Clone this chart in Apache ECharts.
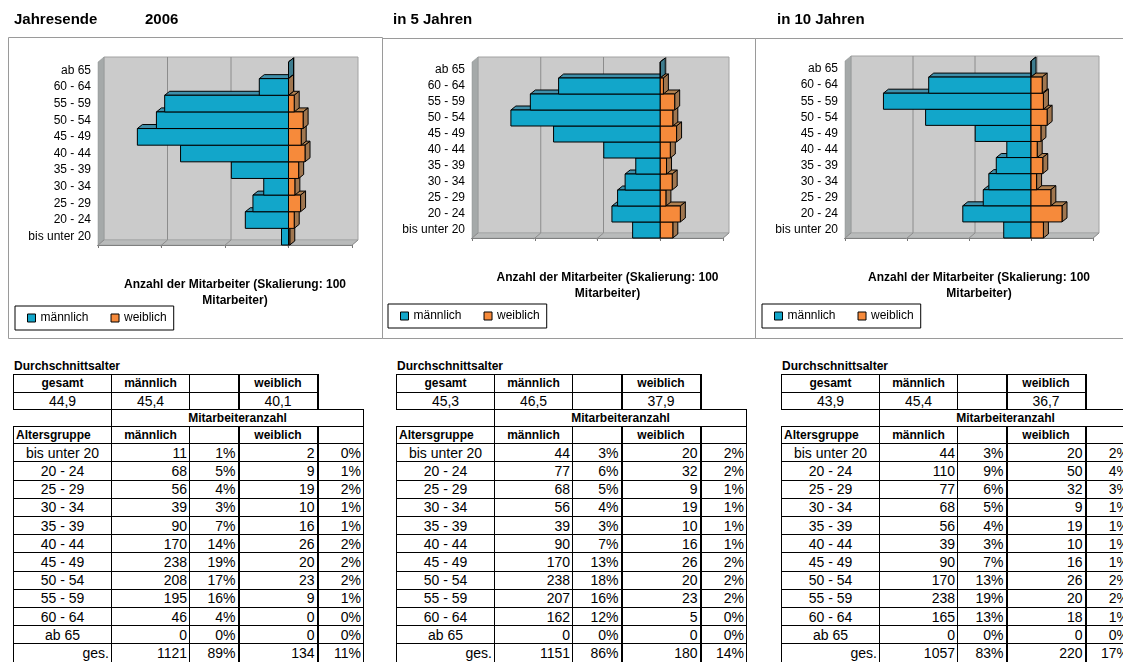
<!DOCTYPE html>
<html>
<head>
<meta charset="utf-8">
<script src="https://cdn.jsdelivr.net/npm/echarts@6/dist/echarts.min.js"></script>
<style>
  body { margin: 0; background: #fff; font-family: 'Liberation Sans', Arial, sans-serif; overflow: hidden; width: 1123px; height: 662px; }
  #main { position: absolute; left: 0; top: 0; width: 1123px; height: 345px; }
  .cap { position: absolute; top: 359px; font-weight: bold; font-size: 12px; line-height: 14px; }
  .tbl { position: absolute; top: 374px; border-collapse: collapse; table-layout: fixed; font-size: 14px; color: #000; }
  .tbl td { border: 1px solid #000; padding: 0 2px; white-space: nowrap; overflow: hidden; line-height: 14px; }
  .tbl td.hd { font-weight: bold; font-size: 12px; text-align: center; }
  .tbl td.lf { text-align: left; }
  .tbl td.ctr { text-align: center; }
  .tbl td.num { text-align: right; }
  .tbl td.tl { border-left: 2px solid #000; }
  .tbl td.nob { border-top: none; border-right: none; border-bottom: none; }
  .tbl td.nol { border-left: none; }
</style>
</head>
<body>
<div id="main"></div>
<div id="tables"></div>
<script>
// Altersgruppen (von unten nach oben)
var ageGroups = ['bis unter 20', '20 - 24', '25 - 29', '30 - 34', '35 - 39', '40 - 44', '45 - 49', '50 - 54', '55 - 59', '60 - 64', 'ab 65'];

// Mitarbeiteranzahl je Altersgruppe
var male2006 = [11, 68, 56, 39, 90, 170, 238, 208, 195, 46, 0];
var female2006 = [2, 9, 19, 10, 16, 26, 20, 23, 9, 0, 0];
var male5 = [44, 77, 68, 56, 39, 90, 170, 238, 207, 162, 0];
var female5 = [20, 32, 9, 19, 10, 16, 26, 20, 23, 5, 0];
var male10 = [44, 110, 77, 68, 56, 39, 90, 170, 238, 165, 0];
var female10 = [20, 50, 32, 9, 19, 10, 16, 26, 20, 18, 0];

// Durchschnittsalter: gesamt, männlich, weiblich
var avg2006 = ['44,9', '45,4', '40,1'];
var avg5 = ['45,3', '46,5', '37,9'];
var avg10 = ['43,9', '45,4', '36,7'];

var valueTicks = [-300, -200, -100, 0, 100];
var axisTitle = 'Anzahl der Mitarbeiter (Skalierung: 100\nMitarbeiter)';

// Farben
var maleColor = '#12A6CA', maleTop = '#3F8FAA', maleSide = '#3E7C8E';
var femaleColor = '#F68A3B', femaleTop = '#B0804F', femaleSide = '#A0764F';

// Tiefe der 3D-Optik
var WX = 6, WY = 5;   // Wand
var BX = 5, BY = 4;   // Balken

var myChart = echarts.init(document.getElementById('main'));

var panels = [
    { male: male2006, female: female2006, grid: { left: 98, top: 62, width: 254, height: 183 }, legend: { left: 15, top: 306 }, box: [8, 37, 374, 301] },
    { male: male5, female: female5, grid: { left: 472, top: 62, width: 251, height: 176 }, legend: { left: 388, top: 304 }, box: [382, 38, 373, 300] },
    { male: male10, female: female10, grid: { left: 845, top: 61, width: 248, height: 177 }, legend: { left: 762, top: 304 }, box: [755, 38, 380, 300] }
];

// Hintergrundwand mit Gitterlinien
function renderWall(params, api) {
    var cs = params.coordSys;
    var x0 = cs.x, x1 = cs.x + cs.width, y0 = cs.y, y1 = cs.y + cs.height;
    var children = [
        { type: 'rect', shape: { x: x0 + WX, y: y0 - WY, width: cs.width, height: cs.height },
          style: { fill: '#CBCBCB', stroke: '#A2A2A2', lineWidth: 1 } }
    ];
    valueTicks.forEach(function (t, i) {
        if (i === 0 || i === valueTicks.length - 1) return;
        var x = api.coord([t, 0])[0];
        children.push({ type: 'line', shape: { x1: x + WX, y1: y0 - WY, x2: x + WX, y2: y1 - WY },
            style: { stroke: '#8C8C8C', lineWidth: 1 } });
    });
    children.push({ type: 'polygon', shape: { points: [[x0, y0], [x0 + WX, y0 - WY], [x0 + WX, y1 - WY], [x0, y1]] },
        style: { fill: '#A5A9A9', stroke: '#8E9292', lineWidth: 0.5 } });
    children.push({ type: 'polygon', shape: { points: [[x0, y1], [x0 + WX, y1 - WY], [x1 + WX, y1 - WY], [x1, y1]] },
        style: { fill: '#B9BBBB', stroke: '#9A9C9C', lineWidth: 0.5 } });
    valueTicks.forEach(function (t) {
        var x = api.coord([t, 0])[0];
        children.push({ type: 'line', shape: { x1: x - 1, y1: y1 + 1, x2: x + WX, y2: y1 - WY },
            style: { stroke: '#8C8C8C', lineWidth: 1 } });
    });
    return { type: 'group', children: children };
}

// 3D-Balken: Front, Oberseite, rechte Seite
function bar3d(face, top, side, other) {
    return function (params, api) {
        var v = api.value(0), idx = api.value(1);
        if (other && v === 0 && other[idx] === 0) return { type: 'group', children: [] };
        var p0 = api.coord([0, idx]);
        var p1 = api.coord([v, idx]);
        var h = api.size([0, 1])[1];
        var yt = p0[1] - h / 2, yb = p0[1] + h / 2;
        var xl = Math.min(p0[0], p1[0]), xr = Math.max(p0[0], p1[0]);
        var edge = { stroke: '#000', lineWidth: 1 };
        return {
            type: 'group',
            children: [
                { type: 'polygon', shape: { points: [[xl, yt], [xl + BX, yt - BY], [xr + BX, yt - BY], [xr, yt]] },
                  style: Object.assign({ fill: top }, edge) },
                { type: 'polygon', shape: { points: [[xr, yt], [xr + BX, yt - BY], [xr + BX, yb - BY], [xr, yb]] },
                  style: Object.assign({ fill: side }, edge) },
                { type: 'rect', shape: { x: xl, y: yt, width: xr - xl, height: yb - yt },
                  style: Object.assign({ fill: face }, edge) }
            ]
        };
    };
}

var option = {
    animation: false,
    textStyle: { fontFamily: 'Liberation Sans, Arial, sans-serif' },
    grid: panels.map(function (p) {
        return Object.assign({ outerBoundsMode: 'none', containLabel: false }, p.grid);
    }),
    xAxis: panels.map(function (p, i) {
        return {
            gridIndex: i, type: 'value', min: -300, max: 100, interval: 100,
            axisLabel: { show: false },
            axisLine: { show: true, lineStyle: { color: '#777' } },
            axisTick: { show: true, length: 3, lineStyle: { color: '#777' } },
            splitLine: { show: false },
            name: axisTitle, nameLocation: 'middle', nameGap: 32,
            nameTextStyle: { fontWeight: 'bold', fontSize: 12, color: '#000', lineHeight: 16, padding: [0, 0, 0, 20] }
        };
    }),
    yAxis: panels.map(function (p, i) {
        return {
            gridIndex: i, type: 'category', data: ageGroups,
            axisLine: { show: true, lineStyle: { color: '#777' } },
            axisTick: { show: true, length: 3, interval: 0, lineStyle: { color: '#777' } },
            axisLabel: { fontSize: 12, color: '#000', margin: 7, interval: 0 },
            splitLine: { show: false }
        };
    }),
    legend: panels.map(function (p) {
        return {
            left: p.legend.left, top: p.legend.top, orient: 'horizontal',
            data: [
                { name: 'männlich', icon: 'rect', itemStyle: { color: maleColor, borderColor: '#000', borderWidth: 1 } },
                { name: 'weiblich', icon: 'rect', itemStyle: { color: femaleColor, borderColor: '#000', borderWidth: 1 } }
            ],
            itemWidth: 8, itemHeight: 8, itemGap: 22,
            textStyle: { fontSize: 12, color: '#000' },
            borderColor: '#000', borderWidth: 1, backgroundColor: '#fff',
            padding: [6, 7, 6, 12], selectedMode: false
        };
    }),
    series: [],
    graphic: []
};

panels.forEach(function (p, i) {
    option.series.push({
        type: 'custom', name: 'wand', xAxisIndex: i, yAxisIndex: i, silent: true, clip: false, z: 1,
        data: [[0, 0]], renderItem: renderWall
    });
    option.series.push({
        type: 'custom', name: 'männlich', xAxisIndex: i, yAxisIndex: i, clip: false, z: 2,
        itemStyle: { color: maleColor },
        encode: { x: 0, y: 1 },
        data: p.male.map(function (v, k) { return [-v, k]; }),
        renderItem: bar3d(maleColor, maleTop, maleSide, null)
    });
    option.series.push({
        type: 'custom', name: 'weiblich', xAxisIndex: i, yAxisIndex: i, clip: false, z: 2,
        itemStyle: { color: femaleColor },
        encode: { x: 0, y: 1 },
        data: p.female.map(function (v, k) { return [v, k]; }),
        renderItem: bar3d(femaleColor, femaleTop, femaleSide, p.male)
    });
    option.graphic.push({
        type: 'rect', silent: true, z: 0,
        shape: { x: p.box[0] + 0.5, y: p.box[1] + 0.5, width: p.box[2], height: p.box[3] },
        style: { fill: 'none', stroke: '#9A9A9A', lineWidth: 1 }
    });
});

// Überschriften
[['Jahresende', 14], ['2006', 145], ['in 5 Jahren', 393], ['in 10 Jahren', 777]].forEach(function (t) {
    option.graphic.push({
        type: 'text', left: t[1], top: 12,
        style: { text: t[0], font: 'bold 15px Liberation Sans, Arial, sans-serif', fill: '#000' }
    });
});

myChart.setOption(option);

// Tabellen unter den Diagrammen
var colW = [98, 78, 49, 79, 46];
var rowH = 18.2;

function sum(a) { return a.reduce(function (s, v) { return s + v; }, 0); }
function pct(v, total) { return Math.round(v / total * 100) + '%'; }

function buildTable(left, avg, male, female) {
    var total = sum(male) + sum(female);
    var h = '<div class="cap" style="left:' + (left + 1) + 'px">Durchschnittsalter</div>';
    h += '<table class="tbl" style="left:' + left + 'px;width:' + sum(colW) + 'px"><colgroup>';
    colW.forEach(function (w) { h += '<col style="width:' + w + 'px">'; });
    h += '</colgroup>';
    h += '<tr style="height:17.7px"><td class="hd">gesamt</td><td class="hd">männlich</td><td></td>' +
         '<td class="hd tl">weiblich</td><td class="nob tl"></td></tr>';
    h += '<tr style="height:17.6px"><td class="ctr">' + avg[0] + '</td><td class="ctr">' + avg[1] + '</td><td></td>' +
         '<td class="ctr tl">' + avg[2] + '</td><td class="nob tl"></td></tr>';
    h += '<tr style="height:16.4px"><td class="nol"></td><td class="hd" colspan="4">Mitarbeiteranzahl</td></tr>';
    h += '<tr style="height:17.6px"><td class="hd lf">Altersgruppe</td><td class="hd">männlich</td><td></td>' +
         '<td class="hd tl">weiblich</td><td class="tl"></td></tr>';
    ageGroups.forEach(function (g, k) {
        h += '<tr style="height:' + rowH + 'px"><td class="ctr">' + g + '</td>' +
             '<td class="num">' + male[k] + '</td><td class="num">' + pct(male[k], total) + '</td>' +
             '<td class="num tl">' + female[k] + '</td><td class="num tl">' + pct(female[k], total) + '</td></tr>';
    });
    h += '<tr style="height:' + rowH + 'px"><td class="num">ges.</td>' +
         '<td class="num">' + sum(male) + '</td><td class="num">' + pct(sum(male), total) + '</td>' +
         '<td class="num tl">' + sum(female) + '</td><td class="num tl">' + pct(sum(female), total) + '</td></tr>';
    h += '</table>';
    return h;
}

document.getElementById('tables').innerHTML =
    buildTable(13, avg2006, male2006, female2006) +
    buildTable(396, avg5, male5, female5) +
    buildTable(781, avg10, male10, female10);
</script>
</body>
</html>
